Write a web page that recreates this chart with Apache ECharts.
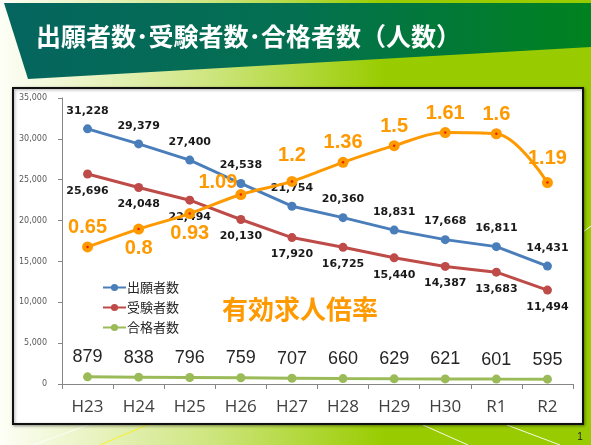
<!DOCTYPE html>
<html>
<head>
<meta charset="utf-8">
<script src="https://cdn.jsdelivr.net/npm/echarts@6/dist/echarts.min.js"></script>
<style>
html,body{margin:0;padding:0;}
#c{width:591px;height:445px;}
</style>
</head>
<body>
<div id="c"></div>
<script>
// ---- data ----
var categories = ['H23','H24','H25','H26','H27','H28','H29','H30','R1','R2'];
var applicants = [31228, 29379, 27400, 24538, 21754, 20360, 18831, 17668, 16811, 14431];
var examinees  = [25696, 24048, 22494, 20130, 17920, 16725, 15440, 14387, 13683, 11494];
var passers    = [879, 838, 796, 759, 707, 660, 629, 621, 601, 595];
var jobRatio   = [0.65, 0.8, 0.93, 1.09, 1.2, 1.36, 1.5, 1.61, 1.6, 1.19];
var yTicks = [0, 5000, 10000, 15000, 20000, 25000, 30000, 35000];

var seriesNames = ['出願者数', '受験者数', '合格者数'];
var ratioName = '有効求人倍率';
var titleText = '出願者数･受験者数･合格者数（人数）';

// label placement tweaks for ratio series (style only)
var ratioLabelPlace = {
  1: {position: 'bottom', offset: [0, 0]},
  2: {position: 'bottom', offset: [0, 0]},
  3: {position: 'top', offset: [-23, 7]},
  4: {position: 'top', offset: [0, -6]},
  9: {position: 'top', offset: [0, -5]}
};

function commas(v){ return String(v).replace(/\B(?=(\d{3})+(?!\d))/g, ','); }

var ratioData = jobRatio.map(function(v, i){
  var p = ratioLabelPlace[i];
  var o = {value: v};
  if (p) o.label = {position: p.position, offset: p.offset};
  return o;
});

var chart = echarts.init(document.getElementById('c'), null, {renderer: 'canvas'});

var option = {
  animation: false,
  backgroundColor: {
    type: 'linear', x: 0, y: 0, x2: 1, y2: 0,
    colorStops: [
      {offset: 0, color: '#fdfef6'},
      {offset: 0.35, color: '#cfe681'},
      {offset: 0.65, color: '#99cc00'},
      {offset: 1, color: '#99cc00'}
    ]
  },
  graphic: [
    {type: 'polygon', z: 0, silent: true,
      shape: {points: [[4,3],[591,3],[591,47],[28,79]]},
      style: {fill: {type: 'linear', x: 0, y: 0, x2: 1, y2: 0,
        colorStops: [{offset: 0, color: '#05655f'}, {offset: 0.5, color: '#047050'}, {offset: 1, color: '#00821f'}]}}},
    {type: 'text', z: 1, silent: true, left: 36, top: 24,
      style: {text: titleText, fill: '#ffffff', font: 'bold 25px "Noto Sans CJK JP"'}},
    {type: 'line', z: 0, silent: true, shape: {x1: 33, y1: 445, x2: 88, y2: 425}, style: {stroke: 'rgba(255,255,255,0.8)', lineWidth: 1}},
    {type: 'line', z: 0, silent: true, shape: {x1: 100, y1: 445, x2: 147, y2: 425}, style: {stroke: 'rgba(255,240,0,0.8)', lineWidth: 1}},
    {type: 'line', z: 0, silent: true, shape: {x1: 423, y1: 425, x2: 468, y2: 445}, style: {stroke: 'rgba(255,255,255,0.9)', lineWidth: 1}},
    {type: 'line', z: 0, silent: true, shape: {x1: 507, y1: 425, x2: 560, y2: 445}, style: {stroke: 'rgba(255,255,255,0.9)', lineWidth: 1}},
    {type: 'line', z: 0, silent: true, shape: {x1: 583, y1: 232, x2: 591, y2: 226}, style: {stroke: 'rgba(255,255,255,0.9)', lineWidth: 1}},
    {type: 'rect', z: 0, silent: true,
      shape: {x: 13, y: 88, width: 570, height: 336},
      style: {fill: '#ffffff', stroke: '#111111', lineWidth: 2, shadowBlur: 3, shadowColor: 'rgba(0,0,0,0.35)', shadowOffsetX: 1, shadowOffsetY: 1}},
    {type: 'text', z: 5, silent: true, x: 300, y: 309,
      style: {text: ratioName, fill: '#ff9900', font: 'bold 26px "Noto Sans CJK JP"', align: 'center', verticalAlign: 'middle'}},
    {type: 'text', z: 5, silent: true, x: 580, y: 437,
      style: {text: '1', fill: '#222222', font: '10px "Liberation Sans"', align: 'center', verticalAlign: 'middle'}}
  ],
  grid: {left: 62, right: 18, top: 98, bottom: 61, containLabel: false},
  legend: {
    data: seriesNames,
    orient: 'vertical', left: 97, top: 276,
    itemWidth: 23, itemHeight: 9, itemGap: 7,
    textStyle: {fontSize: 13, lineHeight: 13, color: '#262626', fontFamily: '"Noto Sans CJK JP"', padding: [0,0,0,-4]}
  },
  xAxis: {
    type: 'category', data: categories, boundaryGap: true,
    axisLine: {show: true, lineStyle: {color: '#868686', width: 1}},
    axisTick: {show: true, length: 5, lineStyle: {color: '#868686'}},
    axisLabel: {fontSize: 17, color: '#404040', margin: 15, fontFamily: '"Open Sans", "Liberation Sans", sans-serif'}
  },
  yAxis: [
    {type: 'value', min: yTicks[0], max: yTicks[yTicks.length - 1], interval: yTicks[1] - yTicks[0],
      axisLine: {show: true, lineStyle: {color: '#868686'}},
      axisTick: {show: true, length: 4, lineStyle: {color: '#868686'}},
      splitLine: {show: false},
      axisLabel: {fontSize: 8, color: '#595959', margin: 15, fontFamily: '"DejaVu Sans"', formatter: function(v){ return commas(v); }}
    },
    {type: 'value', min: -0.5, max: 1.9, show: false, splitLine: {show: false}}
  ],
  series: [
    {name: seriesNames[0], type: 'line', data: applicants, z: 3,
      color: '#4a7ebb', symbol: 'circle', symbolSize: 9,
      lineStyle: {width: 3, color: '#4a7ebb'}, itemStyle: {color: '#4a7ebb'},
      label: {show: true, position: 'top', distance: 8, fontSize: 11, fontWeight: 'bold', color: '#1a1a1a',
        fontFamily: '"DejaVu Sans"', formatter: function(p){ return commas(p.value); }}},
    {name: seriesNames[1], type: 'line', data: examinees, z: 3,
      color: '#be4b48', symbol: 'circle', symbolSize: 9,
      lineStyle: {width: 3, color: '#be4b48'}, itemStyle: {color: '#be4b48'},
      label: {show: true, position: 'bottom', distance: 7, fontSize: 11, fontWeight: 'bold', color: '#1a1a1a',
        fontFamily: '"DejaVu Sans"', formatter: function(p){ return commas(p.value); }}},
    {name: seriesNames[2], type: 'line', data: passers, z: 3,
      color: '#9bbb59', symbol: 'circle', symbolSize: 9,
      lineStyle: {width: 3, color: '#9bbb59'}, itemStyle: {color: '#9bbb59'},
      label: {show: true, position: 'top', distance: 6, fontSize: 18, color: '#262626',
        fontFamily: '"Liberation Sans"', formatter: function(p){ return commas(p.value); }}},
    {name: ratioName, type: 'line', yAxisIndex: 1, data: ratioData, z: 4, smooth: 0.35,
      color: '#ff9900', symbol: 'circle', symbolSize: 11,
      lineStyle: {width: 3, color: '#ff9900'}, itemStyle: {color: '#ff9900'},
      label: {show: true, position: 'top', distance: 4, fontSize: 20, fontWeight: 'bold', color: '#ff9900',
        fontFamily: '"Liberation Sans"'}},
    {name: 'ratioDot', type: 'scatter', yAxisIndex: 1, data: jobRatio, z: 5, silent: true,
      symbol: 'circle', symbolSize: 2.5, itemStyle: {color: '#e00000'}}
  ]
};
chart.setOption(option);
</script>
</body>
</html>
